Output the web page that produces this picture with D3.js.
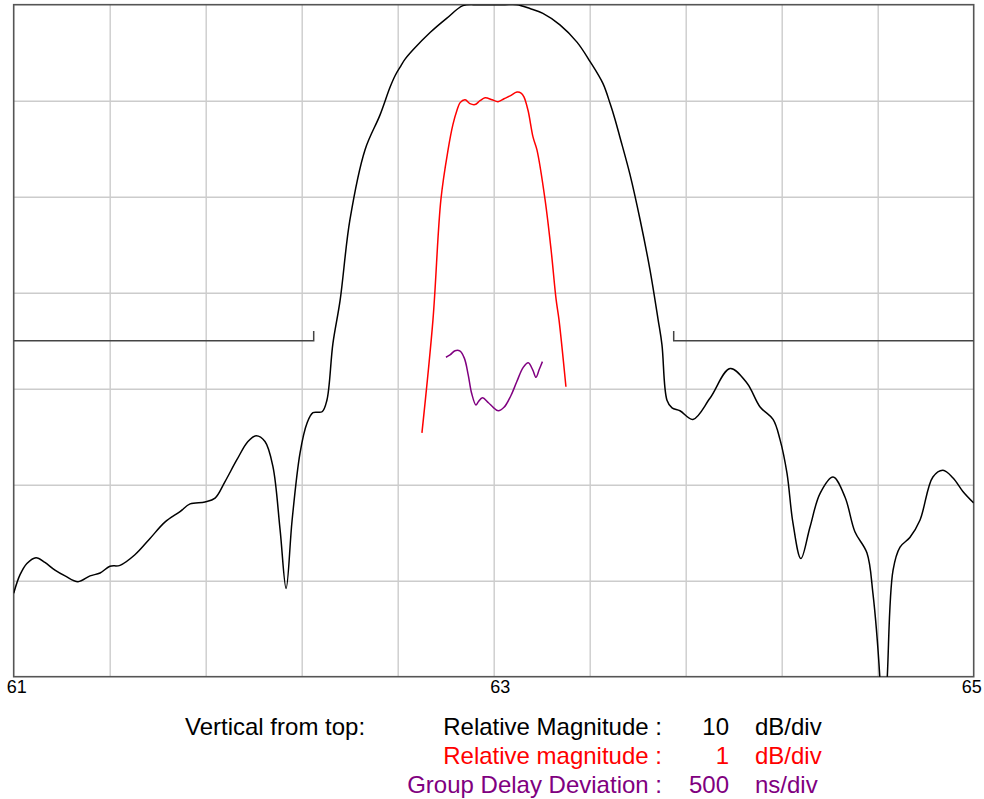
<!DOCTYPE html>
<html>
<head>
<meta charset="utf-8">
<script src="https://cdn.jsdelivr.net/npm/d3@7"></script>
<style>
  body { margin: 0; background: #fff; }
  text { font-family: "Liberation Sans", Arial, sans-serif; }
</style>
</head>
<body>
<div id="chart"></div>
<script>
// frequency axis (MHz)
var xTicks = [61, 63, 65];

// black trace: relative magnitude, 10 dB/div
var magFreq = [61.000, 61.026, 61.055, 61.093, 61.130, 61.172, 61.214, 61.268, 61.318, 61.360,
  61.401, 61.443, 61.505, 61.568, 61.630, 61.693, 61.735, 61.797, 61.839, 61.880,
  61.930, 61.976, 62.010, 62.047, 62.080, 62.110, 62.135, 62.160, 62.193, 62.222,
  62.247, 62.285, 62.305, 62.330, 62.360, 62.401, 62.464, 62.526, 62.568, 62.589,
  62.610, 62.630, 62.664,
  62.735, 62.805, 62.872, 62.935, 62.997, 63.047, 63.097, 63.151, 63.205, 63.276,
  63.347, 63.401, 63.455, 63.485, 63.505, 63.526, 63.568, 63.610, 63.651, 63.685, 63.701, 63.722,
  63.743, 63.776, 63.830, 63.901, 63.985, 64.055, 64.110, 64.164, 64.193, 64.222,
  64.247, 64.280, 64.318, 64.360, 64.414, 64.464, 64.505, 64.555, 64.580, 64.610,
  64.622, 64.639, 64.664, 64.693, 64.734, 64.776, 64.830, 64.872, 64.914, 64.955, 65.000];
var magDb = [-61.3, -59.4, -58.2, -57.6, -58.1, -58.9, -59.5, -60.1, -59.5, -59.2,
  -58.5, -58.4, -57.3, -55.6, -53.9, -52.8, -52.0, -51.8, -51.4, -49.7,
  -47.4, -45.5, -44.9, -45.5, -48.1, -54.7, -60.8, -53.7, -46.7, -43.6,
  -42.5, -42.4, -41.2, -35.3, -30.8, -22.4, -15.1, -11.5, -8.6, -7.4,
  -6.5, -5.7, -4.7,
  -2.9, -1.4, -0.1, 0.0, 0.0, 0.0, 0.0, -0.4, -0.9, -2.1,
  -3.9, -5.9, -8.2, -10.3, -11.9, -13.8, -17.7, -22.4, -27.6, -32.8, -35.4, -41.2,
  -42.0, -42.3, -43.2, -41.0, -37.9, -39.4, -41.9, -43.2, -45.3, -48.8,
  -54.0, -57.7, -54.4, -50.9, -49.2, -51.3, -54.9, -57.1, -61.3, -70.5,
  -78.0, -70.5, -58.9, -56.5, -55.5, -53.7, -49.2, -48.5, -49.3, -50.7, -51.9];

// red trace: relative magnitude, 1 dB/div
var passFreq = [62.701, 62.747, 62.780, 62.810, 62.830, 62.847, 62.860, 62.881, 62.901, 62.922,
  62.943, 62.964, 62.993, 63.018, 63.043, 63.068, 63.097, 63.114, 63.126, 63.143,
  63.164, 63.180, 63.214, 63.239, 63.260, 63.272, 63.301];
var passDb = [-3.46, -2.28, -1.03, -0.51, -0.25, -0.10, -0.02, 0.01, -0.03, -0.04,
  0.00, 0.03, 0.01, -0.01, 0.02, 0.05, 0.09, 0.08, 0.04, -0.10,
  -0.38, -0.51, -1.03, -1.55, -2.07, -2.28, -2.98];

// purple trace: group delay deviation, 500 ns/div
var gdFreq = [62.801, 62.818, 62.839, 62.860, 62.878, 62.894, 62.908, 62.926, 62.936, 62.953,
  62.978, 62.998, 63.019, 63.043, 63.071, 63.096, 63.123, 63.144, 63.163, 63.176,
  63.190, 63.203];
var gdNs = [164, 176, 198, 196, 158, 71, -24, -85, -68, -47,
  -73, -97, -115, -97, -38, 36, 111, 135, 97, 59,
  101, 141];

// mask limit lines
var maskLeft = [[61, -35], [62.25, -35], [62.25, -34]];
var maskRight = [[63.75, -34], [63.75, -35], [65, -35]];

var legendNames = ["Relative Magnitude :", "Relative magnitude :", "Group Delay Deviation :"];
var legendScale = ["10", "1", "500"];
var legendUnits = ["dB/div", "dB/div", "ns/div"];
var legendColors = ["#000000", "#ff0000", "#800080"];

var svgWidth = 984;
var svgHeight = 799;
var margin = { top: 4.7, left: 13.7 };
var plotWidth = 960;
var plotHeight = 672;

var svg = d3.select("#chart")
  .append("svg")
  .attr("width", svgWidth)
  .attr("height", svgHeight);

var plot = svg.append("g")
  .attr("transform", `translate(${margin.left}, ${margin.top})`);

plot.append("clipPath").attr("id", "clip")
  .append("rect").attr("width", plotWidth).attr("height", plotHeight);

var xScale = d3.scaleLinear().domain([61, 65]).range([0, plotWidth]);
var yMag = d3.scaleLinear().domain([-70, 0]).range([plotHeight, 0]);
var yPass = d3.scaleLinear().domain([-6, 1]).range([plotHeight, 0]);
var yGd = d3.scaleLinear().domain([-1500, 2000]).range([plotHeight, 0]);

// grid
plot.append("g")
  .attr("transform", `translate(0, ${plotHeight})`)
  .call(d3.axisBottom(xScale).tickValues(d3.range(1, 10).map(i => 61 + i * 0.4)).tickSize(-plotHeight).tickFormat(""))
  .call(g => g.select(".domain").remove())
  .call(g => g.selectAll("line").attr("stroke", "#cccccc").attr("stroke-width", 1.4));

plot.append("g")
  .call(d3.axisLeft(yMag).tickValues(d3.range(-60, 0, 10)).tickSize(-plotWidth).tickFormat(""))
  .call(g => g.select(".domain").remove())
  .call(g => g.selectAll("line").attr("stroke", "#cccccc").attr("stroke-width", 1.4));

// frame
plot.append("rect")
  .attr("width", plotWidth)
  .attr("height", plotHeight)
  .attr("fill", "none")
  .attr("stroke", "#555555")
  .attr("stroke-width", 1.6);

// x labels
var xAxis = plot.append("g")
  .attr("transform", `translate(0, ${plotHeight})`)
  .call(d3.axisBottom(xScale).tickValues(xTicks).tickSize(0).tickPadding(4).tickFormat(d3.format("d")));
xAxis.select(".domain").remove();
xAxis.selectAll("text")
  .attr("font-size", "18px")
  .attr("fill", "#000")
  .attr("font-family", "'Liberation Sans', Arial, sans-serif")
  .attr("dx", (d, i) => [2.5, 6, -2.5][i]);

// mask lines
var maskLine = d3.line().x(d => xScale(d[0])).y(d => yMag(d[1]));
[maskLeft, maskRight].forEach(function(m) {
  plot.append("path")
    .attr("d", maskLine(m))
    .attr("fill", "none")
    .attr("stroke", "#444444")
    .attr("stroke-width", 1.5);
});

var traces = plot.append("g").attr("clip-path", "url(#clip)");

function drawTrace(freq, vals, yScale, color) {
  var pts = freq.map((f, i) => [f, vals[i]]);
  var line = d3.line()
    .x(d => xScale(d[0]))
    .y(d => yScale(d[1]))
    .curve(d3.curveCatmullRom.alpha(0.5));
  traces.append("path")
    .attr("d", line(pts))
    .attr("fill", "none")
    .attr("stroke", color)
    .attr("stroke-width", 1.5);
}

drawTrace(magFreq, magDb, yMag, "#000000");
drawTrace(passFreq, passDb, yPass, "#ff0000");
drawTrace(gdFreq, gdNs, yGd, "#800080");

// legend
svg.append("text")
  .attr("x", 185)
  .attr("y", 735)
  .attr("font-size", "24px")
  .attr("fill", "#000")
  .text("Vertical from top:");

legendNames.forEach(function(name, i) {
  var y = 735 + i * 29;
  svg.append("text").attr("x", 662).attr("y", y).attr("text-anchor", "end")
    .attr("font-size", "24px").attr("fill", legendColors[i]).text(name);
  svg.append("text").attr("x", 729).attr("y", y).attr("text-anchor", "end")
    .attr("font-size", "24px").attr("fill", legendColors[i]).text(legendScale[i]);
  svg.append("text").attr("x", 755).attr("y", y)
    .attr("font-size", "24px").attr("fill", legendColors[i]).text(legendUnits[i]);
});
</script>
</body>
</html>
